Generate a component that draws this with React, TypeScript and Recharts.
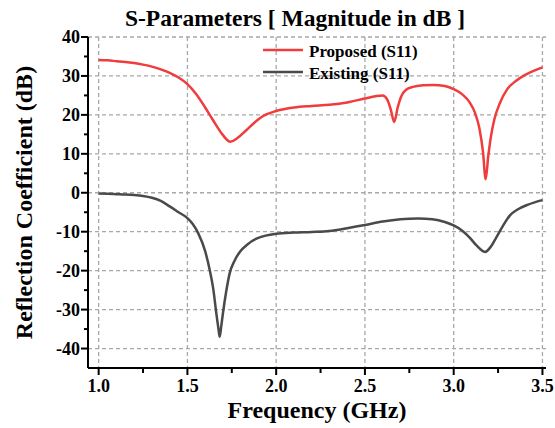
import React from 'react';
import { LineChart, Line, XAxis, YAxis, CartesianGrid, Legend } from 'recharts';

const proposedFreq = [1.0, 1.05, 1.1, 1.15, 1.2, 1.25, 1.3, 1.35, 1.4, 1.45, 1.5, 1.55, 1.6, 1.63, 1.66, 1.7, 1.742, 1.78, 1.83, 1.88, 1.93, 2.0, 2.1, 2.2, 2.3, 2.4, 2.5, 2.56, 2.6, 2.625, 2.645, 2.665, 2.685, 2.705, 2.73, 2.77, 2.83, 2.885, 2.95, 3.0, 3.05, 3.09, 3.12, 3.145, 3.165, 3.18, 3.195, 3.21, 3.23, 3.26, 3.3, 3.35, 3.4, 3.45, 3.5];
const proposedS11 = [34.1, 34.0, 33.8, 33.6, 33.3, 32.9, 32.4, 31.7, 30.8, 29.6, 27.9, 25.3, 21.9, 19.7, 17.5, 14.8, 13.1, 14.0, 16.0, 18.1, 19.8, 21.0, 21.9, 22.3, 22.6, 23.2, 24.2, 24.8, 25.0, 24.0, 21.5, 18.2, 22.0, 24.8, 26.4, 27.2, 27.6, 27.7, 27.4, 26.6, 25.2, 23.2, 20.5, 16.5, 10.5, 3.5, 9.5, 14.5, 19.0, 23.0, 26.5, 28.7, 30.2, 31.3, 32.2];

const existingFreq = [1.0, 1.05, 1.1, 1.15, 1.2, 1.25, 1.3, 1.35, 1.4, 1.45, 1.5, 1.53, 1.56, 1.6, 1.626, 1.645, 1.663, 1.675, 1.682, 1.69, 1.7, 1.718, 1.738, 1.765, 1.795, 1.84, 1.889, 1.94, 2.0, 2.1, 2.2, 2.3, 2.4, 2.5, 2.6, 2.7, 2.8, 2.88, 2.95, 3.0, 3.05, 3.09, 3.13, 3.176, 3.21, 3.242, 3.28, 3.317, 3.36, 3.41, 3.46, 3.5];
const existingS11 = [-0.2, -0.25, -0.35, -0.45, -0.6, -0.85, -1.3, -2.1, -3.5, -5.0, -6.5, -8.0, -10.3, -15.0, -19.9, -24.5, -31.0, -35.0, -37.0, -34.5, -31.0, -25.5, -20.7, -17.5, -15.2, -13.2, -11.8, -11.0, -10.5, -10.2, -10.05, -9.8, -9.1, -8.3, -7.4, -6.8, -6.6, -6.8, -7.5, -8.4, -9.8, -11.5, -13.6, -15.2, -13.8, -11.3, -8.3, -5.8, -4.3, -3.2, -2.4, -1.9];

const xMajorTicks = [1.0, 1.5, 2.0, 2.5, 3.0, 3.5];
const xAllTicks = [1.0, 1.25, 1.5, 1.75, 2.0, 2.25, 2.5, 2.75, 3.0, 3.25, 3.5];
const yMajorTicks = [-40, -30, -20, -10, 0, 10, 20, 30, 40];
const yAllTicks = [-40, -35, -30, -25, -20, -15, -10, -5, 0, 5, 10, 15, 20, 25, 30, 35, 40];
const xDomain = [0.94, 3.52];
const yDomain = [-45, 40];

const seriesNames = ['Proposed (S11)', 'Existing (S11)'];
const seriesColors = ['#f03c3c', '#4a4a4a'];

const proposedData = proposedFreq.map((f, i) => ({ f, v: proposedS11[i] }));
const existingData = existingFreq.map((f, i) => ({ f, v: existingS11[i] }));

const FONT = '"Liberation Serif", "Times New Roman", serif';

const isMajor = (v: number, majors: number[]) => majors.some((m) => Math.abs(m - v) < 1e-6);

const XTick = (props: any) => {
  const { x, y, payload } = props;
  const major = isMajor(payload.value, xMajorTicks);
  return (
    <g>
      <line x1={x} x2={x} y1={y} y2={y + (major ? 7 : 5)} stroke="#000" strokeWidth={2} />
      {major && (
        <text x={x} y={y + 24} textAnchor="middle" fontFamily={FONT} fontWeight="bold" fontSize={18} fill="#000">
          {Number(payload.value).toFixed(1)}
        </text>
      )}
    </g>
  );
};

const YTick = (props: any) => {
  const { x, y, payload } = props;
  const major = isMajor(payload.value, yMajorTicks);
  return (
    <g>
      <line x1={x} x2={x - (major ? 7 : 4)} y1={y} y2={y} stroke="#000" strokeWidth={2} />
      {major && (
        <text x={x - 8} y={y + 6} textAnchor="end" fontFamily={FONT} fontWeight="bold" fontSize={18} fill="#000">
          {payload.value}
        </text>
      )}
    </g>
  );
};

const YLabel = (props: any) => {
  const vb = props.viewBox || {};
  const cx = (vb.x || 0) + 32;
  const cy = (vb.y || 0) + (vb.height || 0) / 2;
  return (
    <text x={cx} y={cy} transform={`rotate(-90, ${cx}, ${cy})`} textAnchor="middle" fontFamily={FONT} fontWeight="bold" fontSize={24} fill="#000">
      Reflection Coefficient (dB)
    </text>
  );
};

const LegendContent = (props: any) => {
  const payload = [...(props.payload || [])].sort(
    (a: any, b: any) => seriesNames.indexOf(a.value) - seriesNames.indexOf(b.value)
  );
  return (
    <svg width={200} height={50}>
      {payload.map((p: any, i: number) => (
        <g key={i}>
          <line x1={0} x2={40} y1={12 + 22 * i} y2={12 + 22 * i} stroke={p.color} strokeWidth={2.5} />
          <text x={46} y={19 + 22 * i} fontFamily={FONT} fontWeight="bold" fontSize={17} fill="#000">
            {p.value}
          </text>
        </g>
      ))}
    </svg>
  );
};

export default function App() {
  return (
    <div style={{ position: 'absolute', left: 0, top: 0, width: 555, height: 428, background: '#fff' }}>
      <div
        style={{
          position: 'absolute',
          left: 0,
          top: 4,
          width: 590,
          textAlign: 'center',
          fontFamily: FONT,
          fontWeight: 'bold',
          fontSize: 23.5,
          lineHeight: '28px',
          color: '#000',
          zIndex: 2,
        }}
      >
        S-Parameters [ Magnitude in dB ]
      </div>
      <LineChart width={555} height={428} margin={{ top: 37, right: 9, left: 0, bottom: 0 }}>
        <CartesianGrid
          stroke="#a8a8a8"
          strokeDasharray="4 3"
          strokeWidth={1.3}
          verticalValues={xMajorTicks}
          horizontalValues={yMajorTicks}
        />
        <XAxis
          dataKey="f"
          type="number"
          domain={xDomain}
          ticks={xAllTicks}
          allowDataOverflow
          height={60}
          tickSize={0}
          tickMargin={0}
          tickLine={false}
          tick={<XTick />}
          interval={0}
          axisLine={{ stroke: '#000', strokeWidth: 2 }}
          label={{ value: 'Frequency (GHz)', position: 'insideBottom', offset: 10, fontFamily: FONT, fontWeight: 'bold', fontSize: 24, fill: '#000' }}
        />
        <XAxis xAxisId="top" orientation="top" type="number" domain={xDomain} allowDataOverflow height={0} tick={false} tickLine={false} axisLine={{ stroke: '#000', strokeWidth: 2 }} />
        <YAxis
          type="number"
          domain={yDomain}
          ticks={yAllTicks}
          allowDataOverflow
          width={88}
          tickSize={0}
          tickMargin={0}
          tickLine={false}
          tick={<YTick />}
          interval={0}
          axisLine={{ stroke: '#000', strokeWidth: 2 }}
          label={<YLabel />}
        />
        <YAxis yAxisId="right" orientation="right" type="number" domain={yDomain} allowDataOverflow width={0} tick={false} tickLine={false} axisLine={{ stroke: '#000', strokeWidth: 2 }} />
        <Legend
          layout="vertical"
          verticalAlign="middle"
          align="center"
          content={<LegendContent />}
          wrapperStyle={{ left: 263, top: 38, width: 200, height: 50 }}
        />
        <Line data={proposedData} dataKey="v" name={seriesNames[0]} type="monotone" stroke={seriesColors[0]} strokeWidth={2.5} dot={false} isAnimationActive={false} />
        <Line data={existingData} dataKey="v" name={seriesNames[1]} type="monotone" stroke={seriesColors[1]} strokeWidth={2.5} dot={false} isAnimationActive={false} />
      </LineChart>
    </div>
  );
}
